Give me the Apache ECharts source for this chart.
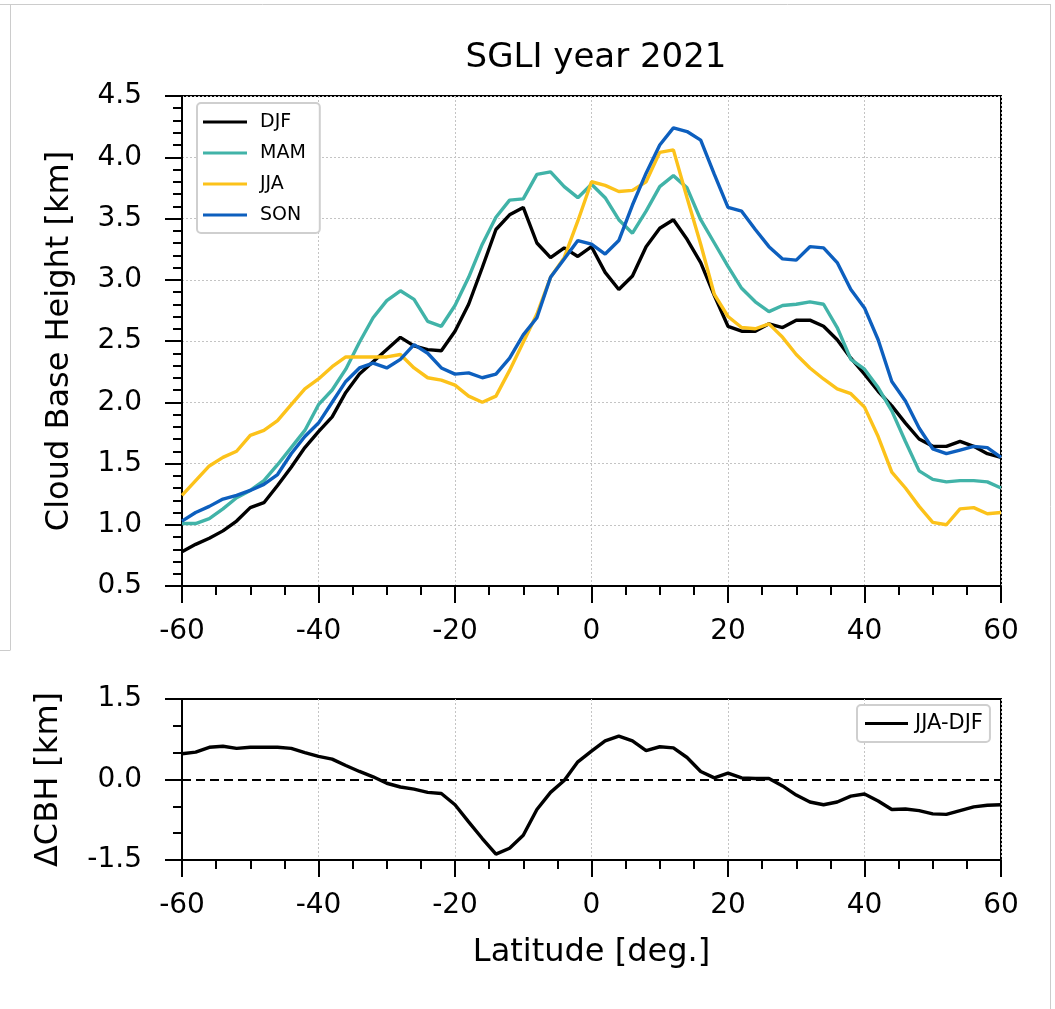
<!DOCTYPE html>
<html>
<head>
<meta charset="utf-8">
<script src="https://cdn.jsdelivr.net/npm/echarts@6/dist/echarts.min.js"></script>
<style>
    html, body { margin: 0; padding: 0; background: #fff; }
    #chart { width: 1055px; height: 1009px; }
</style>
</head>
<body>
<div id="chart"></div>
<script>

// =====================================================
// DATA (2 deg steps)
// =====================================================

const lats = [-60, -58, -56, -54, -52, -50, -48, -46, -44, -42,
              -40, -38, -36, -34, -32, -30, -28, -26, -24, -22,
              -20, -18, -16, -14, -12, -10, -8, -6, -4, -2,
              0,
              2, 4, 6, 8, 10, 12, 14, 16, 18, 20,
              22, 24, 26, 28, 30, 32, 34, 36, 38, 40,
              42, 44, 46, 48, 50, 52, 54, 56, 58, 60];

const djf = [0.78, 0.84, 0.89, 0.95, 1.03, 1.14, 1.18, 1.32, 1.47, 1.63,
             1.76, 1.88, 2.08, 2.23, 2.33, 2.43, 2.53, 2.46, 2.43, 2.42,
             2.58, 2.80, 3.10, 3.41, 3.53, 3.59, 3.30, 3.18, 3.26, 3.19,
             3.27,
             3.06, 2.92, 3.03, 3.27, 3.42, 3.49, 3.33, 3.14, 2.87, 2.62,
             2.58, 2.58, 2.64, 2.61, 2.67, 2.67, 2.62, 2.51, 2.36, 2.23,
             2.09, 1.97, 1.83, 1.70, 1.64, 1.64, 1.68, 1.64, 1.58, 1.55];

const mam = [1.01, 1.01, 1.05, 1.13, 1.22, 1.28, 1.36, 1.49, 1.63, 1.77,
             1.98, 2.10, 2.27, 2.49, 2.69, 2.83, 2.91, 2.84, 2.66, 2.62,
             2.79, 3.02, 3.29, 3.51, 3.65, 3.66, 3.86, 3.88, 3.76, 3.67,
             3.78,
             3.67, 3.49, 3.38, 3.56, 3.76, 3.85, 3.75, 3.49, 3.30, 3.11,
             2.93, 2.82, 2.74, 2.79, 2.80, 2.82, 2.80, 2.61, 2.35, 2.27,
             2.12, 1.93, 1.68, 1.44, 1.37, 1.35, 1.36, 1.36, 1.35, 1.30];

const jja = [1.24, 1.36, 1.48, 1.55, 1.60, 1.73, 1.77, 1.85, 1.98, 2.11,
             2.19, 2.29, 2.37, 2.37, 2.37, 2.37, 2.39, 2.28, 2.20, 2.18,
             2.14, 2.05, 2.00, 2.05, 2.26, 2.49, 2.72, 3.02, 3.18, 3.48,
             3.80,
             3.77, 3.72, 3.73, 3.80, 4.04, 4.06, 3.67, 3.29, 2.88, 2.70,
             2.61, 2.60, 2.64, 2.53, 2.39, 2.28, 2.19, 2.11, 2.07, 1.96,
             1.72, 1.43, 1.30, 1.15, 1.02, 1.00, 1.13, 1.14, 1.09, 1.10];

const son = [1.03, 1.10, 1.15, 1.21, 1.24, 1.28, 1.33, 1.41, 1.58, 1.72,
             1.83, 2.00, 2.17, 2.28, 2.32, 2.28, 2.35, 2.47, 2.40, 2.28,
             2.23, 2.24, 2.20, 2.23, 2.36, 2.55, 2.69, 3.02, 3.17, 3.32,
             3.29,
             3.21, 3.32, 3.61, 3.87, 4.10, 4.24, 4.21, 4.14, 3.86, 3.59,
             3.56, 3.41, 3.27, 3.17, 3.16, 3.27, 3.26, 3.14, 2.92, 2.77,
             2.51, 2.17, 2.01, 1.79, 1.62, 1.58, 1.61, 1.64, 1.63, 1.55];

const jja_djf = [0.48, 0.51, 0.60, 0.62, 0.58, 0.60, 0.60, 0.60, 0.58, 0.50,
                 0.43, 0.38, 0.26, 0.15, 0.05, -0.07, -0.14, -0.18, -0.24, -0.26,
                 -0.47, -0.79, -1.10, -1.39, -1.28, -1.04, -0.56, -0.24, -0.02, 0.33,
                 0.53,
                 0.72, 0.81, 0.72, 0.54, 0.61, 0.59, 0.41, 0.15, 0.03, 0.12,
                 0.03, 0.02, 0.02, -0.12, -0.29, -0.42, -0.47, -0.42, -0.31, -0.27,
                 -0.40, -0.56, -0.55, -0.58, -0.64, -0.65, -0.58, -0.51, -0.48, -0.47];

const season_names = ['DJF', 'MAM', 'JJA', 'SON'];
const season_colors = ['#000000', '#41b3a8', '#fcc21a', '#0d5fbe'];

// =====================================================
// STYLE HELPERS
// =====================================================

const FONT = 'DejaVu Sans';

function pairs(values) {
    return lats.map((x, i) => [x, values[i]]);
}

function x_axis(idx, show_name) {
    return {
        type: 'value',
        gridIndex: idx,
        min: -60,
        max: 60,
        interval: 20,
        name: show_name ? 'Latitude [deg.]' : '',
        nameLocation: 'middle',
        nameGap: 77,
        nameTextStyle: { fontFamily: FONT, fontSize: 32, color: '#000' },
        axisLine: { show: true, onZero: false, lineStyle: { color: '#000', width: 2 } },
        axisTick: { show: true, length: 17, lineStyle: { color: '#000', width: 2 } },
        minorTick: { show: true, splitNumber: 4, length: 9, lineStyle: { color: '#000', width: 2 } },
        axisLabel: { fontFamily: FONT, fontSize: 28, color: '#000', margin: 32 },
        splitLine: { show: true, lineStyle: { color: '#c4c4c4', width: 1, type: [2, 2] } }
    };
}

// =====================================================
// CHART
// =====================================================

const chart = echarts.init(document.getElementById('chart'));

const series = season_names.map((name, i) => ({
    name: name,
    type: 'line',
    xAxisIndex: 0,
    yAxisIndex: 0,
    data: pairs([djf, mam, jja, son][i]),
    symbol: 'none',
    smooth: false,
    color: season_colors[i],
    lineStyle: { width: 3.4, color: season_colors[i] },
    z: 3 + i
}));

series.push({
    name: 'JJA-DJF',
    type: 'line',
    xAxisIndex: 1,
    yAxisIndex: 1,
    data: pairs(jja_djf),
    symbol: 'none',
    color: '#000',
    lineStyle: { width: 3.4, color: '#000' },
    markLine: {
        silent: true,
        symbol: 'none',
        label: { show: false },
        lineStyle: { color: '#000', width: 2, type: [9, 5] },
        data: [{ yAxis: 0 }]
    },
    z: 3
});

chart.setOption({
    backgroundColor: '#fff',
    animation: false,

    title: {
        text: 'SGLI year 2021',
        left: 591,
        top: 36,
        textAlign: 'center',
        textStyle: { fontFamily: FONT, fontSize: 34, fontWeight: 'normal', color: '#000' }
    },

    grid: [
        { left: 182, top: 96, width: 819, height: 490, show: true, borderColor: '#000', borderWidth: 2 },
        { left: 182, top: 699, width: 819, height: 161, show: true, borderColor: '#000', borderWidth: 2 }
    ],

    legend: [
        {
            data: season_names,
            orient: 'vertical',
            left: 197,
            top: 103,
            padding: [9, 14, 8, 6],
            itemWidth: 44,
            itemHeight: 3,
            itemGap: 11,
            icon: 'rect',
            backgroundColor: '#fff',
            borderColor: '#cfcfcf',
            borderWidth: 2,
            borderRadius: 4,
            textStyle: { fontFamily: FONT, fontSize: 19, lineHeight: 20, color: '#000', padding: [0, 0, 0, 8] }
        },
        {
            data: ['JJA-DJF'],
            orient: 'vertical',
            left: 857,
            top: 705,
            padding: [8, 7, 8, 8],
            itemWidth: 43,
            itemHeight: 3,
            icon: 'rect',
            backgroundColor: '#fff',
            borderColor: '#cfcfcf',
            borderWidth: 2,
            borderRadius: 4,
            textStyle: { fontFamily: FONT, fontSize: 21, lineHeight: 21, color: '#000', padding: [0, 0, 0, 2] }
        }
    ],

    xAxis: [x_axis(0, false), x_axis(1, true)],

    yAxis: [
        {
            type: 'value',
            gridIndex: 0,
            min: 0.5,
            max: 4.5,
            interval: 0.5,
            name: 'Cloud Base Height [km]',
            nameLocation: 'middle',
            nameGap: 106,
            nameTextStyle: { fontFamily: FONT, fontSize: 32, color: '#000' },
            axisLine: { show: true, onZero: false, lineStyle: { color: '#000', width: 2 } },
            axisTick: { show: true, length: 17, lineStyle: { color: '#000', width: 2 } },
            minorTick: { show: true, splitNumber: 5, length: 9, lineStyle: { color: '#000', width: 2 } },
            axisLabel: { fontFamily: FONT, fontSize: 28, color: '#000', margin: 40, formatter: v => v.toFixed(1) },
            splitLine: { show: true, lineStyle: { color: '#c4c4c4', width: 1, type: [2, 2] } }
        },
        {
            type: 'value',
            gridIndex: 1,
            min: -1.5,
            max: 1.5,
            interval: 1.5,
            name: '\u0394CBH [km]',
            nameLocation: 'middle',
            nameGap: 117,
            nameTextStyle: { fontFamily: FONT, fontSize: 32, color: '#000' },
            axisLine: { show: true, onZero: false, lineStyle: { color: '#000', width: 2 } },
            axisTick: { show: true, length: 17, lineStyle: { color: '#000', width: 2 } },
            minorTick: { show: true, splitNumber: 3, length: 9, lineStyle: { color: '#000', width: 2 } },
            axisLabel: { fontFamily: FONT, fontSize: 28, color: '#000', margin: 40, formatter: v => v.toFixed(1) },
            splitLine: { show: false }
        }
    ],

    // thin frame of the original screenshot
    graphic: [
        { type: 'line', shape: { x1: 0, y1: 4.5, x2: 1050, y2: 4.5 }, style: { stroke: '#cccccc', lineWidth: 1 }, silent: true },
        { type: 'line', shape: { x1: 1050.5, y1: 4, x2: 1050.5, y2: 1009 }, style: { stroke: '#cccccc', lineWidth: 1 }, silent: true },
        { type: 'line', shape: { x1: 10.5, y1: 4, x2: 10.5, y2: 650 }, style: { stroke: '#cccccc', lineWidth: 1 }, silent: true },
        { type: 'line', shape: { x1: 0, y1: 650.5, x2: 10.5, y2: 650.5 }, style: { stroke: '#cccccc', lineWidth: 1 }, silent: true }
    ],

    series: series
});

window.addEventListener('resize', function() {
    chart.resize();
});

</script>
</body>
</html>
